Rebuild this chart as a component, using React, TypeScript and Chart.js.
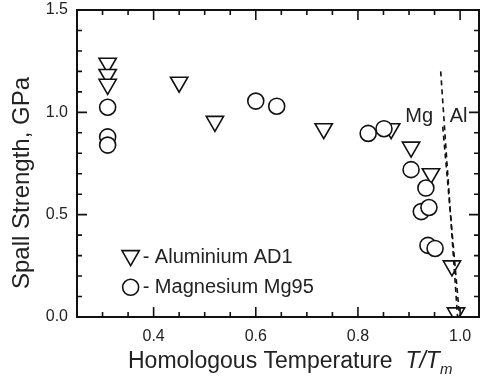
import React, { useEffect, useRef } from "react";
import { Chart, registerables } from "chart.js";

Chart.register(...registerables);

// Aluminium AD1 spall strength vs homologous temperature
const alX = [0.31, 0.31, 0.31, 0.45, 0.52, 0.733, 0.865, 0.904, 0.943, 0.984, 0.992];
const alY = [1.24, 1.185, 1.137, 1.147, 0.956, 0.92, 0.92, 0.83, 0.70, 0.25, 0.02];

// Magnesium Mg95
const mgX = [0.31, 0.31, 0.31, 0.60, 0.641, 0.82, 0.851, 0.904, 0.933, 0.924, 0.939, 0.937, 0.951];
const mgY = [1.025, 0.88, 0.84, 1.055, 1.03, 0.897, 0.92, 0.72, 0.63, 0.515, 0.535, 0.35, 0.335];

// Melting guide lines
const mgLineX = [0.962, 0.995];
const mgLineY = [1.2, 0.0];
const alLineX = [0.966, 0.999];
const alLineY = [0.93, 0.0];

const xMajorTicks = [0.4, 0.6, 0.8, 1.0];
const yMajorTicks = [0.0, 0.5, 1.0, 1.5];

const FONT = '"Liberation Sans", Arial, Helvetica, sans-serif';

const framePlugin = {
  id: "frame",
  afterDatasetsDraw(chart: any) {
    const { ctx, chartArea } = chart;
    const xs = chart.scales.x;
    const ys = chart.scales.y;
    const { left, right, top, bottom } = chartArea;
    ctx.save();
    ctx.strokeStyle = "#111";
    ctx.lineWidth = 2;
    ctx.strokeRect(left, top, right - left, bottom - top);

    ctx.lineWidth = 1.6;
    // x ticks (inward, bottom and top)
    for (let i = 0; i <= 20; i++) {
      const v = Math.round((0.25 + i * 0.05) * 100) / 100;
      if (v > xs.max) break;
      const major = xMajorTicks.some((t) => Math.abs(t - v) < 1e-6);
      const len = major ? 10 : 5;
      const px = xs.getPixelForValue(v);
      ctx.beginPath();
      ctx.moveTo(px, bottom);
      ctx.lineTo(px, bottom - len);
      ctx.moveTo(px, top);
      ctx.lineTo(px, top + len);
      ctx.stroke();
    }
    // y ticks (inward, left and right)
    for (let i = 0; i <= 15; i++) {
      const v = Math.round(i * 0.1 * 100) / 100;
      const major = yMajorTicks.some((t) => Math.abs(t - v) < 1e-6);
      const len = major ? 10 : 5;
      const py = ys.getPixelForValue(v);
      ctx.beginPath();
      ctx.moveTo(left, py);
      ctx.lineTo(left + len, py);
      ctx.moveTo(right, py);
      ctx.lineTo(right - len, py);
      ctx.stroke();
    }

    // in-plot labels for the melting lines
    ctx.fillStyle = "#222";
    ctx.font = `20px ${FONT}`;
    ctx.textBaseline = "middle";
    ctx.textAlign = "center";
    ctx.fillText("Mg", xs.getPixelForValue(0.92), ys.getPixelForValue(0.98));
    ctx.fillText("Al", xs.getPixelForValue(0.997), ys.getPixelForValue(0.98));

    // legend
    const lx = xs.getPixelForValue(0.355);
    const ly1 = ys.getPixelForValue(0.3);
    const ly2 = ys.getPixelForValue(0.145);
    ctx.lineWidth = 1.6;
    ctx.strokeStyle = "#111";
    const r = 10;
    ctx.beginPath();
    ctx.moveTo(lx - r * Math.sin(Math.PI / 3), ly1 - r / 2);
    ctx.lineTo(lx + r * Math.sin(Math.PI / 3), ly1 - r / 2);
    ctx.lineTo(lx, ly1 + r);
    ctx.closePath();
    ctx.stroke();
    ctx.beginPath();
    ctx.arc(lx, ly2, 8, 0, Math.PI * 2);
    ctx.stroke();
    ctx.textAlign = "left";
    ctx.fillText("- Aluminium AD1", lx + 12, ly1 + 2);
    ctx.fillText("- Magnesium Mg95", lx + 12, ly2);

    // x axis title
    ctx.textBaseline = "alphabetic";
    ctx.font = `23px ${FONT}`;
    const base = 368;
    const main = "Homologous Temperature  ";
    let tx = 128;
    ctx.fillText(main, tx, base);
    tx += ctx.measureText(main).width;
    ctx.font = `italic 23px ${FONT}`;
    ctx.fillText("T/T", tx, base);
    tx += ctx.measureText("T/T").width;
    ctx.font = `italic 15px ${FONT}`;
    ctx.fillText("m", tx, base + 6);

    // y axis title
    ctx.save();
    ctx.translate(22, 183);
    ctx.rotate(-Math.PI / 2);
    ctx.textAlign = "center";
    ctx.textBaseline = "middle";
    ctx.font = `24px ${FONT}`;
    ctx.fillText("Spall Strength, GPa", 0, 0);
    ctx.restore();

    ctx.restore();
  },
};

const noPad = (s: any) => {
  s.paddingLeft = 0;
  s.paddingRight = 0;
  s.paddingTop = 0;
  s.paddingBottom = 0;
};

export default function App() {
  const canvasRef = useRef<HTMLCanvasElement | null>(null);

  useEffect(() => {
    const canvas = canvasRef.current;
    if (!canvas) return;
    const toPts = (xs: number[], ys: number[]) => xs.map((x, i) => ({ x, y: ys[i] }));

    const chart = new Chart(canvas, {
      type: "scatter",
      data: {
        datasets: [
          {
            label: "Aluminium AD1",
            data: toPts(alX, alY),
            pointStyle: "triangle",
            rotation: 180,
            pointRadius: 10,
            pointBorderWidth: 1.6,
            borderColor: "#111",
            backgroundColor: "#fff",
            order: 3,
          },
          {
            label: "Magnesium Mg95",
            data: toPts(mgX, mgY),
            pointStyle: "circle",
            pointRadius: 8,
            pointBorderWidth: 1.6,
            borderColor: "#111",
            backgroundColor: "#fff",
            order: 2,
          },
          {
            label: "Mg",
            type: "line",
            data: toPts(mgLineX, mgLineY),
            showLine: true,
            pointRadius: 0,
            borderColor: "#111",
            borderWidth: 1.6,
            borderDash: [5, 4],
            order: 1,
          },
          {
            label: "Al",
            type: "line",
            data: toPts(alLineX, alLineY),
            showLine: true,
            pointRadius: 0,
            borderColor: "#111",
            borderWidth: 1.6,
            borderDash: [5, 4],
            order: 1,
          },
        ],
      } as any,
      options: {
        responsive: false,
        animation: false,
        layout: { autoPadding: false, padding: { top: 10, right: 2, left: 0, bottom: 0 } },
        plugins: { legend: { display: false }, tooltip: { enabled: false } },
        scales: {
          x: {
            type: "linear",
            min: 0.25,
            max: 1.037,
            grid: { display: false, drawTicks: false },
            border: { display: false },
            afterBuildTicks: (s: any) => {
              s.ticks = xMajorTicks.map((v) => ({ value: v }));
            },
            afterFit: (s: any) => {
              s.height = 67;
              noPad(s);
            },
            ticks: {
              padding: 10,
              color: "#222",
              font: { family: FONT, size: 16 },
              callback: (v: any) => Number(v).toFixed(1),
            },
          },
          y: {
            type: "linear",
            min: 0,
            max: 1.5,
            grid: { display: false, drawTicks: false },
            border: { display: false },
            afterBuildTicks: (s: any) => {
              s.ticks = yMajorTicks.map((v) => ({ value: v }));
            },
            afterFit: (s: any) => {
              s.width = 77;
              noPad(s);
            },
            ticks: {
              padding: 9,
              color: "#222",
              font: { family: FONT, size: 16 },
              callback: (v: any) => Number(v).toFixed(1),
            },
          },
        },
      },
      plugins: [framePlugin],
    });

    return () => chart.destroy();
  }, []);

  return (
    <div style={{ position: "absolute", left: 0, top: 0, width: 481, height: 384, background: "#fff" }}>
      <canvas ref={canvasRef} width={481} height={384} />
    </div>
  );
}
